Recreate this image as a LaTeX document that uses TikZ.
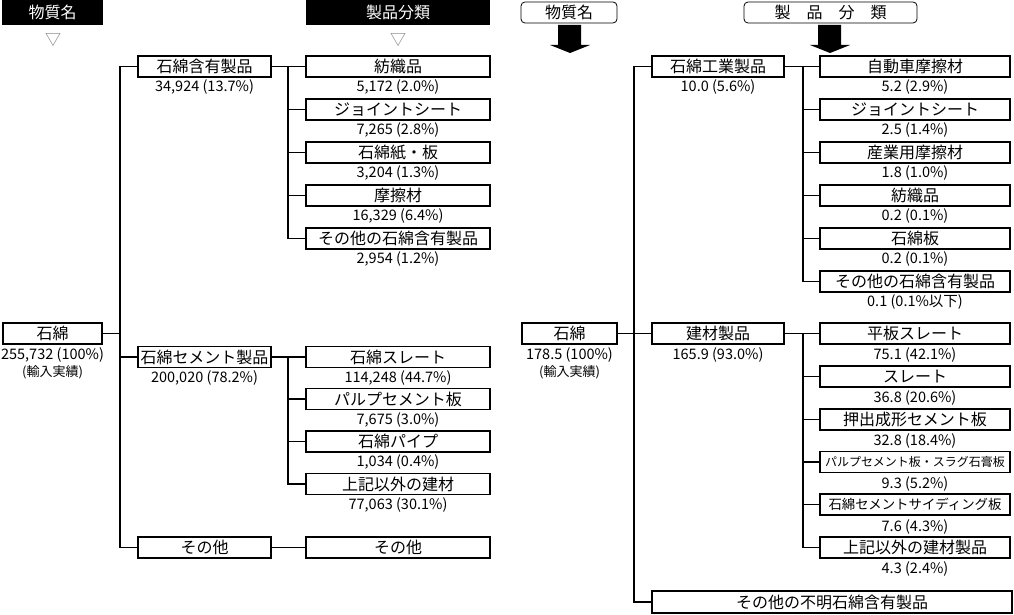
\documentclass[tikz,border=0pt]{standalone}
\usepackage{fontspec}
\usepackage{graphicx}
\setmainfont{Noto Sans CJK JP}
\newcommand{\vt}[1]{#1}
\begin{document}
\begin{tikzpicture}[x=1pt,y=-1pt,
  bx/.style={draw, line width=1.1pt, inner sep=0pt, minimum height=21pt, font=\fontsize{16}{16}\selectfont},
  lbx/.style={bx, minimum width=133pt},
  sbx/.style={bx, minimum width=184pt},
  rbx/.style={bx, minimum width=190pt},
  hdr/.style={fill=black, text=white, inner sep=0pt, font=\fontsize{16}{16}\selectfont},
  rhdr/.style={draw, line width=0.8pt, rounded corners=4pt, inner sep=0pt, font=\fontsize{16}{16}\selectfont},
  val/.style={inner sep=0pt, font=\fontsize{14.5}{14.5}\selectfont},
  tri/.style={inner sep=0pt, text=black!50, font=\fontsize{16}{16}\selectfont},
  ln/.style={line width=1.1pt}]
\useasboundingbox (0,0) rectangle (1014,615);
% ================= LEFT =================
\node[hdr, minimum width=101pt, minimum height=25pt] (hl1) at (52.5,12.5) {物質名};
\node[hdr, minimum width=184pt, minimum height=25pt] (hl2) at (398,12.5) {製品分類};
\node[tri] (t1) at (53,40) {▽};
\node[tri] (t2) at (398,40) {▽};
% level 1
\node[bx, minimum width=99pt] (ishiL) at (52.5,333.5) {石綿};
\node[val] (ishiLv) at (52.5,355) {\vt{255,732 (100\%)}};
\node[val, font=\fontsize{13}{13}\selectfont] (ishiLv2) at (52.5,372) {(輸入実績)};
% level 2
\node[lbx] (kanyu) at (204.5,66.5) {石綿含有製品};
\node[val] (kanyuv) at (204.5,87) {\vt{34,924 (13.7\%)}};
\node[lbx] (cem) at (204.5,357) {石綿セメント製品};
\node[val] (cemv) at (204.5,378) {\vt{200,020 (78.2\%)}};
\node[lbx] (othL) at (204.5,547.5) {その他};
% level 3 (kanyu)
\node[sbx] (a1) at (398,66.5) {紡織品};
\node[val] (a1v) at (398,87) {\vt{5,172 (2.0\%)}};
\node[sbx] (a2) at (398,109.5) {ジョイントシート};
\node[val] (a2v) at (398,130) {\vt{7,265 (2.8\%)}};
\node[sbx] (a3) at (398,152.5) {石綿紙・板};
\node[val] (a3v) at (398,173) {\vt{3,204 (1.3\%)}};
\node[sbx] (a4) at (398,195.5) {摩擦材};
\node[val] (a4v) at (398,216) {\vt{16,329 (6.4\%)}};
\node[sbx] (a5) at (398,238.5) {その他の石綿含有製品};
\node[val] (a5v) at (398,259) {\vt{2,954 (1.2\%)}};
% level 3 (cement)
\node[sbx] (b1) at (398,357) {石綿スレート};
\node[val] (b1v) at (398,377.5) {\vt{114,248 (44.7\%)}};
\node[sbx] (b2) at (398,399) {パルプセメント板};
\node[val] (b2v) at (398,419.5) {\vt{7,675 (3.0\%)}};
\node[sbx] (b3) at (398,441.5) {石綿パイプ};
\node[val] (b3v) at (398,462) {\vt{1,034 (0.4\%)}};
\node[sbx] (b4) at (398,484) {上記以外の建材};
\node[val] (b4v) at (398,504.5) {\vt{77,063 (30.1\%)}};
\node[sbx] (othL2) at (398,547.5) {その他};
% connectors left
\coordinate (tL) at (120,0);
\coordinate (sL) at (288,0);
\draw[ln] (ishiL.east) -- (ishiL.east -| tL);
\draw[ln] (kanyu.west) -- (kanyu.west -| tL) -- (othL.west -| tL) -- (othL.west);
\draw[ln] (cem.west) -- (cem.west -| tL);
\draw[ln] (kanyu.east) -- (a1.west);
\draw[ln] (a1.west -| sL) -- (a5.west -| sL) -- (a5.west);
\foreach \n in {a2,a3,a4} \draw[ln] (\n.west -| sL) -- (\n.west);
\draw[ln] (cem.east) -- (b1.west);
\draw[ln] (b1.west -| sL) -- (b4.west -| sL) -- (b4.west);
\foreach \n in {b2,b3} \draw[ln] (\n.west -| sL) -- (\n.west);
\draw[ln] (othL.east) -- (othL2.west);
% ================= RIGHT =================
\node[rhdr, minimum width=96pt, minimum height=21pt] (hr1) at (569,12.5) {物質名};
\node[rhdr, minimum width=173pt, minimum height=21pt] (hr2) at (830.5,12.5) {製　品　分　類};
\fill (558,25) -- (581,25) -- (581,45) -- (590,45) -- (570,53) -- (550,45) -- (558,45) -- cycle;
\fill (818,25) -- (841,25) -- (841,45) -- (850,45) -- (830,53) -- (810,45) -- (818,45) -- cycle;
\node[bx, minimum width=95pt] (ishiR) at (569.5,333.5) {石綿};
\node[val] (ishiRv) at (569.5,355) {\vt{178.5 (100\%)}};
\node[val, font=\fontsize{13}{13}\selectfont] (ishiRv2) at (569.5,372) {(輸入実績)};
\node[bx, minimum width=132pt] (kogyo) at (718,66.5) {石綿工業製品};
\node[val] (kogyov) at (718,87) {\vt{10.0 (5.6\%)}};
\node[bx, minimum width=132pt] (kenz) at (718,333.5) {建材製品};
\node[val] (kenzv) at (718,355) {\vt{165.9 (93.0\%)}};
\node[bx, minimum width=360pt, minimum height=22pt] (fumei) at (832,602) {その他の不明石綿含有製品};
% subs kogyo
\node[rbx] (c1) at (915,66.5) {自動車摩擦材};
\node[val] (c1v) at (915,87) {\vt{5.2 (2.9\%)}};
\node[rbx] (c2) at (915,109.5) {ジョイントシート};
\node[val] (c2v) at (915,130) {\vt{2.5 (1.4\%)}};
\node[rbx] (c3) at (915,152.5) {産業用摩擦材};
\node[val] (c3v) at (915,173) {\vt{1.8 (1.0\%)}};
\node[rbx] (c4) at (915,195.5) {紡織品};
\node[val] (c4v) at (915,216) {\vt{0.2 (0.1\%)}};
\node[rbx] (c5) at (915,238.5) {石綿板};
\node[val] (c5v) at (915,259) {\vt{0.2 (0.1\%)}};
\node[rbx] (c6) at (915,281.5) {その他の石綿含有製品};
\node[val] (c6v) at (915,302) {\vt{0.1 (0.1\%以下)}};
% subs kenzai
\node[rbx] (d1) at (915,333.5) {平板スレート};
\node[val] (d1v) at (915,355) {\vt{75.1 (42.1\%)}};
\node[rbx] (d2) at (915,376.5) {スレート};
\node[val] (d2v) at (915,398) {\vt{36.8 (20.6\%)}};
\node[rbx] (d3) at (915,419.5) {押出成形セメント板};
\node[val] (d3v) at (915,441) {\vt{32.8 (18.4\%)}};
\node[rbx, font=\fontsize{12}{12}\selectfont] (d4) at (915,462) {パルプセメント板・スラグ石膏板};
\node[val] (d4v) at (915,484) {\vt{9.3 (5.2\%)}};
\node[rbx, font=\fontsize{13.4}{13.4}\selectfont] (d5) at (915,504.5) {石綿セメントサイディング板};
\node[val] (d5v) at (915,527) {\vt{7.6 (4.3\%)}};
\node[rbx] (d6) at (915,547.5) {上記以外の建材製品};
\node[val] (d6v) at (915,569) {\vt{4.3 (2.4\%)}};
% connectors right
\coordinate (tR) at (634,0);
\coordinate (sR) at (803,0);
\draw[ln] (ishiR.east) -- (kenz.west);
\draw[ln] (kogyo.west) -- (kogyo.west -| tR) -- (fumei.west -| tR) -- (fumei.west);
\draw[ln] (kogyo.east) -- (c1.west);
\draw[ln] (c1.west -| sR) -- (c6.west -| sR) -- (c6.west);
\foreach \n in {c2,c3,c4,c5} \draw[ln] (\n.west -| sR) -- (\n.west);
\draw[ln] (kenz.east) -- (d1.west);
\draw[ln] (d1.west -| sR) -- (d6.west -| sR) -- (d6.west);
\foreach \n in {d2,d3,d4,d5} \draw[ln] (\n.west -| sR) -- (\n.west);
\end{tikzpicture}
\end{document}
